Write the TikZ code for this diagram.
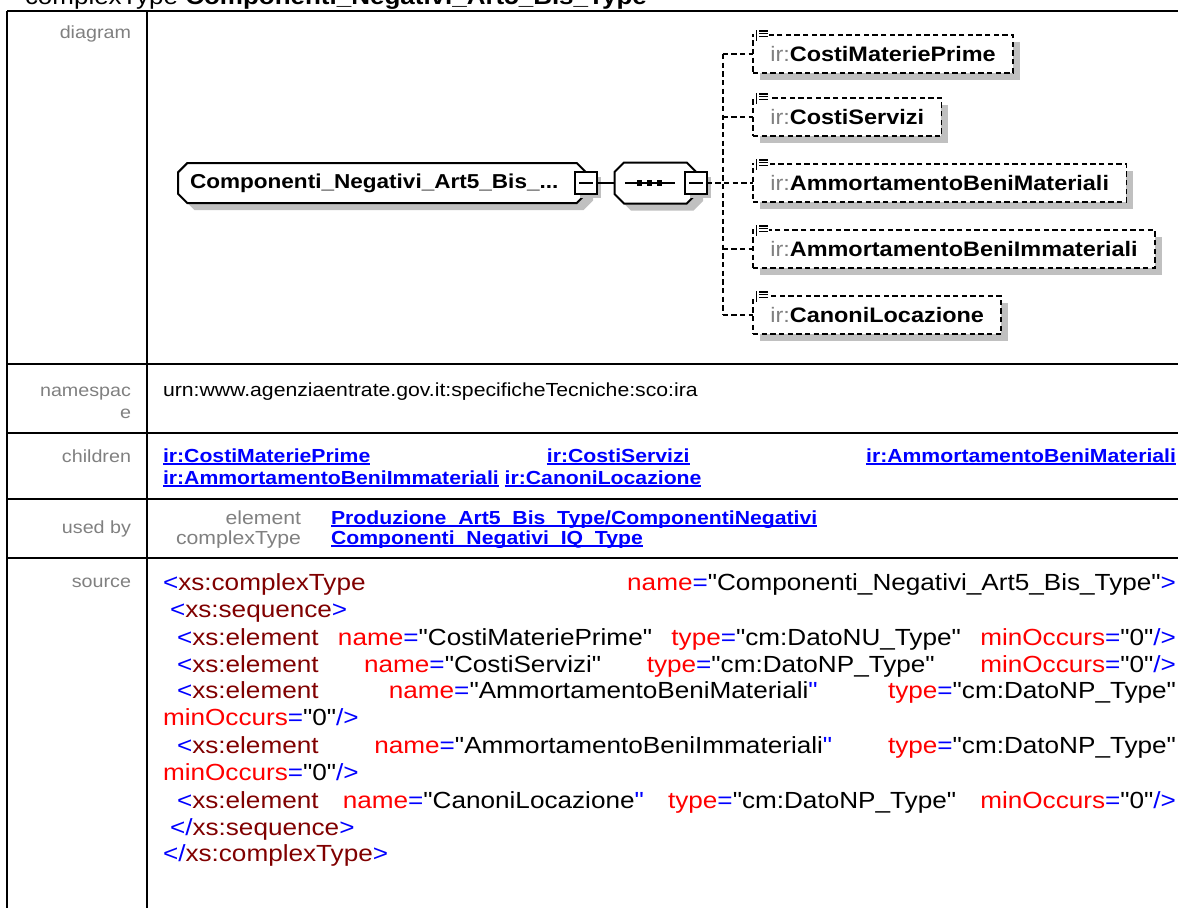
\documentclass[tikz,border=0pt]{standalone}
\usepackage{fontspec}
\setmainfont{Liberation Sans}[FakeStretch=1.12, Ligatures=TeXOff]
\usetikzlibrary{positioning,shadows,backgrounds}

\definecolor{lblgray}{RGB}{128,128,128}
\definecolor{lnkblue}{RGB}{0,0,255}
\definecolor{xsmark}{RGB}{0,0,255}
\definecolor{xstag}{RGB}{128,0,0}
\definecolor{xsattr}{RGB}{255,0,0}
\definecolor{shgray}{RGB}{192,192,192}

% fonts of the table
\newcommand\ftitle{\fontsize{17.4pt}{20pt}\selectfont}
\newcommand\flbl{\fontsize{13.2pt}{16pt}\selectfont}
\newcommand\fval{\fontsize{14.2pt}{16pt}\selectfont}
\newcommand\fsrc{\fontsize{17.5pt}{20pt}\selectfont}
\newcommand\fdia{\fontsize{15.1pt}{18pt}\selectfont\bfseries}
\newcommand\fkid{\fontsize{15.7pt}{18pt}\selectfont}

% link with underline
\newsavebox\lnkbox
\newcommand\ulink[1]{\sbox\lnkbox{#1}\rlap{\rule[-2.4pt]{\wd\lnkbox}{1.3pt}}\usebox{\lnkbox}}
% child element name
\newcommand\kidname[1]{{\color{lblgray}ir:}\textbf{#1}}
% xml source pieces
\newcommand\q{\symbol{34}}
\newcommand\xtag[1]{\textcolor{xsmark}{<}\textcolor{xstag}{#1}}
\newcommand\xetag[1]{\textcolor{xsmark}{</}\textcolor{xstag}{#1}\textcolor{xsmark}{>}}
\newcommand\xattr[2]{\textcolor{xsattr}{#1}\textcolor{xsmark}{=}\q#2\q}
\newcommand\xattrb[2]{\textcolor{xsattr}{#1}\textcolor{xsmark}{=}\q#2\textcolor{xsmark}{\q}}
\newcommand\xgt{\textcolor{xsmark}{>}}
\newcommand\xend{\textcolor{xsmark}{/>}}
% octagon round a node
\newcommand\octopath[2]{([xshift=#2]#1.north west) -- ([xshift=-#2]#1.north east)
  -- ([yshift=-#2]#1.north east) -- ([yshift=#2]#1.south east)
  -- ([xshift=-#2]#1.south east) -- ([xshift=#2]#1.south west)
  -- ([yshift=#2]#1.south west) -- ([yshift=-#2]#1.north west) -- cycle}

\begin{document}
\begin{tikzpicture}[
    x=0.75pt, y=-0.75pt,
    every node/.style={inner sep=0pt, outer sep=0pt},
    grid/.style={line width=1.5pt},
    lbl/.style={anchor=base east, font=\flbl, text=lblgray},
    val/.style={anchor=base west, font=\fval},
    lnk/.style={anchor=base west, font=\fval\bfseries, text=lnkblue},
    src/.style={anchor=base west, font=\fsrc},
    shd/.style={drop shadow={shadow xshift=5.25pt, shadow yshift=-5.25pt,
                fill=shgray, opacity=1}},
    octo/.style={draw, line width=1.5pt, fill=white},
    octoshd/.style={fill=shgray, transform canvas={shift={(7,7)}}},
    minbox/.style={draw, line width=1.5pt, fill=white, minimum size=16pt,
                   drop shadow={shadow xshift=3.5pt, shadow yshift=-3.5pt,
                   fill=shgray, opacity=1},
                   path picture={\draw[line width=1.2pt]
                     ([xshift=3pt]path picture bounding box.west) --
                     ([xshift=-3pt]path picture bounding box.east);}},
    kid/.style={draw, dashed, dash pattern=on 4pt off 2.5pt, line width=1.3pt,
                fill=white, shd, anchor=west, minimum height=28.5pt,
                inner xsep=13pt, font=\fkid},
    dconn/.style={dash pattern=on 4pt off 2.5pt, line width=1.3pt},
    conn/.style={line width=1.5pt},
  ]
  \useasboundingbox (0,0) rectangle (1178,908);
  \clip (0,0) rectangle (1178,908);

  % title, cut by the page top
  \node[anchor=base west, font=\ftitle] (ttl) at (25,4)
    {complexType \textbf{Componenti\_Negativi\_Art5\_Bis\_Type}};

  % table rules
  \draw[grid] (7,11) -- (1178,11);
  \foreach \ry in {364,433,499,558}
    \draw[grid] (7,\ry) -- (1178,\ry);
  \draw[grid] (7,11) -- (7,908);
  \draw[grid] (147,11) -- (147,908);

  % row labels
  \node[lbl] (ldia) at (131,38) {diagram};
  \node[lbl] (lns) at (131,396) {namespac};
  \node[lbl] (lns2) at (131,418) {e};
  \node[lbl] (lkids) at (131,462) {children};
  \node[lbl] (luse) at (131,533) {used by};
  \node[lbl] (lsrc) at (131,587) {source};

  % diagram: element, sequence, children
  \node[minimum width=306pt, minimum height=30pt, text width=288pt,
        align=left, font=\fdia, anchor=west] (cn) at (178,183)
    {Componenti\_Negativi\_Art5\_Bis\_...};
  \node[minbox] (cnmin) at (cn.east) {};
  \node[minimum width=61pt, minimum height=30.75pt, right=13.5pt of cnmin] (seq) {};
  \node[minbox] (seqmin) at (seq.east) {};
  \begin{scope}[on background layer]
    \fill[octoshd] \octopath{cn}{7pt};
    \fill[octoshd] \octopath{seq}{7pt};
    \path[octo] \octopath{cn}{7pt};
    \path[octo] \octopath{seq}{7pt};
  \end{scope}
  \draw[conn] (cnmin) -- (seq);
  \draw[conn] ([xshift=-30.5*0.75pt]seq.center) -- ([xshift=19.5*0.75pt]seq.center);
  \foreach \dx in {-15.5,-5.5,4.5}
    \fill ([xshift=\dx*0.75pt]seq.center) ++(-2.6,-2.6) rectangle ++(5.2,5.2);

  \coordinate (jn) at ([xshift=12pt]seqmin.east);
  \node[kid] (k1) at (753,54) {\kidname{CostiMateriePrime}};
  \node[kid] (k2) at (753,117) {\kidname{CostiServizi}};
  \node[kid] (k3) at (753,183) {\kidname{AmmortamentoBeniMateriali}};
  \node[kid] (k4) at (753,249) {\kidname{AmmortamentoBeniImmateriali}};
  \node[kid] (k5) at (753,315) {\kidname{CanoniLocazione}};

  \draw[dconn] (seqmin.east) -- (k3.west);
  \draw[dconn] (jn |- k1.west) -- (jn |- k5.west);
  \foreach \k in {k1,k2,k4,k5}
    \draw[dconn] (jn |- \k.west) -- (\k.west);

  % small icon on each child box
  \foreach \k in {k1,k2,k3,k4,k5} {
    \fill[white] ([xshift=1pt,yshift=3.5pt]\k.north west) rectangle ([xshift=12pt,yshift=-4.5pt]\k.north west);
    \draw[line width=0.8pt] ([xshift=2.5pt,yshift=3.5pt]\k.north west) -- ([xshift=2.5pt,yshift=-4.5pt]\k.north west);
    \foreach \dy in {3,1,-1}
      \draw[line width=0.8pt] ([xshift=4.5pt,yshift=\dy pt]\k.north west) -- ([xshift=11.5pt,yshift=\dy pt]\k.north west);
  }

  % namespace
  \node[val] (ns) at (163,396) {urn:www.agenziaentrate.gov.it:specificheTecniche:sco:ira};

  % children
  \node[lnk] (ch1) at (163,462) {\makebox[759.75pt][s]{\ulink{ir:CostiMateriePrime} \ulink{ir:CostiServizi} \ulink{ir:AmmortamentoBeniMateriali}}};
  \node[lnk] (ch2) at (163,484) {\ulink{ir:AmmortamentoBeniImmateriali} \ulink{ir:CanoniLocazione}};

  % used by
  \node[lbl, font=\fval] (ue) at (301,524) {element};
  \node[lbl, font=\fval] (uc) at (301,544) {complexType};
  \node[lnk] (ue1) at (331,524) {\ulink{Produzione\_Art5\_Bis\_Type/ComponentiNegativi}};
  \node[lnk] (uc1) at (331,544) {\ulink{Componenti\_Negativi\_IQ\_Type}};

  % source
  \node[src] (s1) at (163,590) {\makebox[759.75pt][s]{\xtag{xs:complexType} \xattr{name}{Componenti\_Negativi\_Art5\_Bis\_Type}\xgt}};
  \node[src] (s2) at (170,617) {\xtag{xs:sequence}\xgt};
  \node[src] (s3) at (177,645) {\makebox[749.25pt][s]{\xtag{xs:element} \xattr{name}{CostiMateriePrime} \xattr{type}{cm:DatoNU\_Type} \xattr{minOccurs}{0}\xend}};
  \node[src] (s4) at (177,672) {\makebox[749.25pt][s]{\xtag{xs:element} \xattr{name}{CostiServizi} \xattr{type}{cm:DatoNP\_Type} \xattr{minOccurs}{0}\xend}};
  \node[src] (s5) at (177,698) {\makebox[749.25pt][s]{\xtag{xs:element} \xattrb{name}{AmmortamentoBeniMateriali} \xattr{type}{cm:DatoNP\_Type}}};
  \node[src] (s6) at (163,725) {\xattr{minOccurs}{0}\xend};
  \node[src] (s7) at (177,753) {\makebox[749.25pt][s]{\xtag{xs:element} \xattrb{name}{AmmortamentoBeniImmateriali} \xattr{type}{cm:DatoNP\_Type}}};
  \node[src] (s8) at (163,780) {\xattr{minOccurs}{0}\xend};
  \node[src] (s9) at (177,808) {\makebox[749.25pt][s]{\xtag{xs:element} \xattrb{name}{CanoniLocazione} \xattr{type}{cm:DatoNP\_Type} \xattr{minOccurs}{0}\xend}};
  \node[src] (s10) at (170,835) {\xetag{xs:sequence}};
  \node[src] (s11) at (163,861) {\xetag{xs:complexType}};
\end{tikzpicture}
\end{document}
